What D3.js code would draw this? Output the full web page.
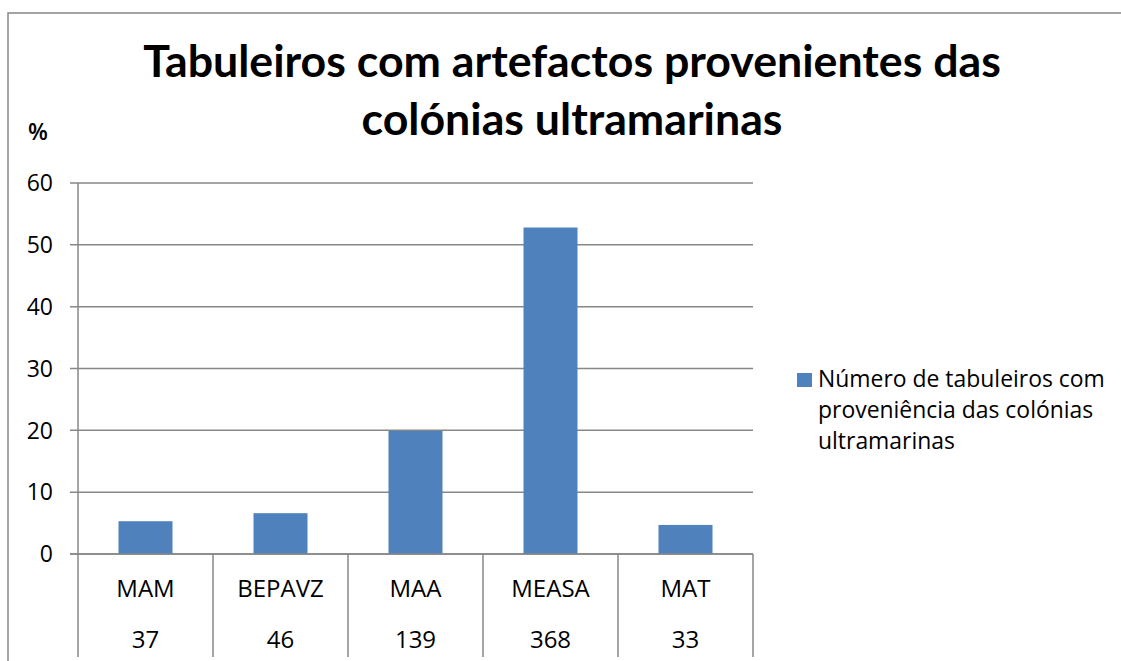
<!DOCTYPE html>
<html>
<head>
<meta charset="utf-8">
<script src="https://cdn.jsdelivr.net/npm/d3@7"></script>
<style>
  body { margin: 0; background: white; }
  text { font-family: "Open Sans", sans-serif; fill: #000; }
</style>
</head>
<body>
<svg width="1121" height="661"></svg>
<script>
// data
var categories = ["MAM", "BEPAVZ", "MAA", "MEASA", "MAT"];
var counts = ["37", "46", "139", "368", "33"];
var percents = [5.3, 6.6, 19.9, 52.8, 4.7];
var yTicks = [0, 10, 20, 30, 40, 50, 60];
var titleLines = ["Tabuleiros com artefactos provenientes das", "colónias ultramarinas"];
var legendLines = ["Número de tabuleiros com", "proveniência das colónias", "ultramarinas"];

var plotLeft = 78, plotRight = 753, plotTop = 183, plotBottom = 554;
var tableBottom = 657;
var gridColor = "#878787";
var barColor = "#4F81BD";

var svg = d3.select("svg");

// fit a text selection's first node to a target width
function fitWidth(sel, size, target) {
    var w = sel.node().getComputedTextLength();
    sel.style("font-size", (size * target / w) + "px");
}

// outer frame (only left + top visible)
svg.append("path")
    .attr("d", "M8,661 L8,13 L1121,13")
    .attr("fill", "none")
    .attr("stroke", gridColor)
    .attr("stroke-width", 1.5);

// scales
var y = d3.scaleLinear().domain([0, 60]).range([plotBottom, plotTop]);
var x = d3.scaleBand().domain(categories).range([plotLeft, plotRight]).paddingInner(0.6).paddingOuter(0.3);
var cell = d3.scaleBand().domain(categories).range([plotLeft, plotRight]).padding(0);

// grid lines + tick marks
svg.append("g").selectAll("line")
    .data(yTicks)
    .enter().append("line")
    .attr("x1", plotLeft - 8)
    .attr("x2", plotRight)
    .attr("y1", function(d) { return y(d); })
    .attr("y2", function(d) { return y(d); })
    .attr("stroke", gridColor)
    .attr("stroke-width", 1.5);

// y tick labels
svg.append("g").selectAll("text")
    .data(yTicks)
    .enter().append("text")
    .attr("x", 53)
    .attr("y", function(d) { return y(d); })
    .attr("dy", "0.36em")
    .attr("text-anchor", "end")
    .style("font-size", "23px")
    .text(function(d) { return d; });

// left axis line, runs down through the category table
svg.append("line")
    .attr("x1", plotLeft).attr("x2", plotLeft)
    .attr("y1", plotTop).attr("y2", tableBottom)
    .attr("stroke", gridColor)
    .attr("stroke-width", 1.5);

// category separators
var edges = categories.map(function(c) { return cell(c) + cell.bandwidth(); });
svg.append("g").selectAll("line")
    .data(edges)
    .enter().append("line")
    .attr("x1", function(d) { return d; })
    .attr("x2", function(d) { return d; })
    .attr("y1", plotBottom)
    .attr("y2", tableBottom)
    .attr("stroke", gridColor)
    .attr("stroke-width", 1.5);

// bars
svg.append("g").selectAll("rect")
    .data(percents)
    .enter().append("rect")
    .attr("x", function(d, i) { return x(categories[i]); })
    .attr("width", x.bandwidth())
    .attr("y", function(d) { return y(d); })
    .attr("height", function(d) { return plotBottom - y(d); })
    .attr("fill", barColor);

// redraw the baseline above the bars
svg.append("line")
    .attr("x1", plotLeft - 8).attr("x2", plotRight)
    .attr("y1", y(0)).attr("y2", y(0))
    .attr("stroke", gridColor)
    .attr("stroke-width", 1.5);

// category names and counts
svg.append("g").selectAll("text")
    .data(categories)
    .enter().append("text")
    .attr("x", function(d) { return cell(d) + cell.bandwidth() / 2; })
    .attr("y", 597)
    .attr("text-anchor", "middle")
    .style("font-size", "24px")
    .text(function(d) { return d; });

svg.append("g").selectAll("text")
    .data(counts)
    .enter().append("text")
    .attr("x", function(d, i) { return cell(categories[i]) + cell.bandwidth() / 2; })
    .attr("y", 648)
    .attr("text-anchor", "middle")
    .style("font-size", "24px")
    .text(function(d) { return d; });

// title, sized to fit the first line's width
var title = svg.append("g").selectAll("text")
    .data(titleLines)
    .enter().append("text")
    .attr("x", 572)
    .attr("y", function(d, i) { return 77 + i * 58; })
    .attr("text-anchor", "middle")
    .style("font-family", "Lato, sans-serif")
    .style("font-weight", "bold")
    .style("font-size", "40px")
    .text(function(d) { return d; });
fitWidth(title, 40, 858);

// % label
svg.append("text")
    .attr("x", 28)
    .attr("y", 140)
    .style("font-size", "23px")
    .style("font-weight", "600")
    .text("%");

// legend
svg.append("rect")
    .attr("x", 797).attr("y", 373)
    .attr("width", 15).attr("height", 14)
    .attr("fill", barColor);

var legend = svg.append("g").selectAll("text")
    .data(legendLines)
    .enter().append("text")
    .attr("x", 818)
    .attr("y", function(d, i) { return 387 + i * 31; })
    .style("font-size", "20px")
    .text(function(d) { return d; });
fitWidth(legend, 20, 287);
</script>
</body>
</html>
